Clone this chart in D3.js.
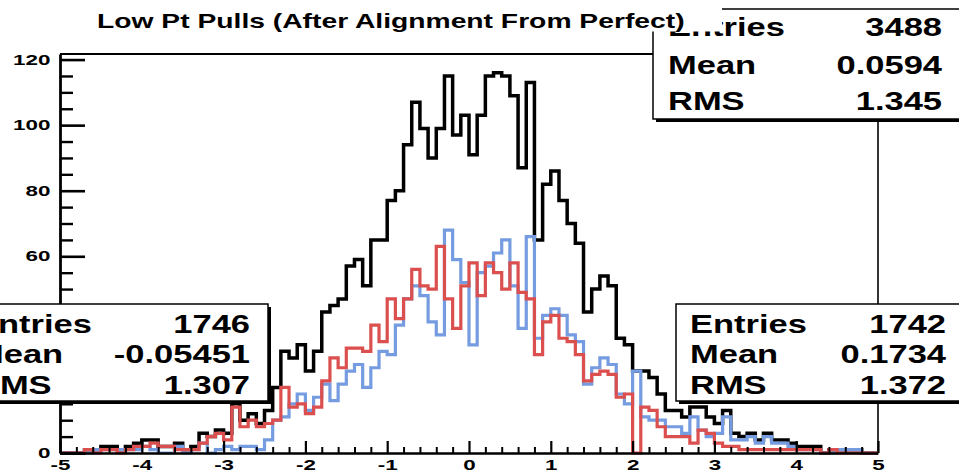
<!DOCTYPE html>
<html><head><meta charset="utf-8">
<script src="https://cdn.jsdelivr.net/npm/d3@7"></script>
<style>
html,body{margin:0;padding:0;background:#fff;overflow:hidden}
svg{display:block}
text{font-family:"Liberation Sans",Arial,Helvetica,sans-serif;font-weight:bold;fill:#000}
</style></head><body>
<svg id="c" width="959" height="472"></svg>
<script>
const title = "Low Pt Pulls (After Alignment From Perfect)";
const xRange = [-5, 5];
const xTicks = [-5,-4,-3,-2,-1,0,1,2,3,4,5];
const yTicks = [0,20,40,60,80,100,120];
const yMax = 121.7;

const blueCounts = [
 0,0,0,0,1,1,1,1,1,1,
 2,1,0,0,2,0,1,3,0,1,
 2,1,2,2,1,4,10,11,15,18,
 13,17,21,16,21,25,27,20,26,31,
 30,39,47,51,48,40,36,68,59,52,
 33,55,57,61,65,51,38,66,35,42,
 44,42,36,34,21,26,29,27,18,15,
 25,11,10,10,8,8,6,11,7,5,
 6,11,4,4,5,3,5,3,3,2,
 1,1,1,0,0,1,1,1,0,0];
const redCounts = [
 0,0,0,1,0,1,1,0,1,2,
 2,3,2,2,1,1,1,3,5,6,
 4,14,8,10,8,9,10,20,14,15,
 12,14,22,29,26,32,32,31,39,34,
 47,41,47,56,51,50,63,47,38,51,
 58,48,58,55,50,58,49,47,30,40,
 42,35,34,30,22,24,25,24,17,18,
 0,14,13,8,5,5,5,3,7,6,
 3,2,2,1,1,1,1,1,1,1,
 1,1,1,0,1,0,0,0,0,0];
const sumCounts = [
 0,0,0,1,1,2,2,1,2,3,
 4,4,2,2,3,1,2,6,5,7,
 6,15,10,12,9,13,20,31,29,33,
 25,31,43,45,47,57,59,51,65,65,
 77,80,94,107,99,90,99,115,97,103,
 91,103,115,116,115,109,87,113,65,82,
 86,77,70,64,43,50,54,51,35,33,
 25,25,23,18,13,13,11,14,14,11,
 9,13,6,5,6,4,6,4,4,3,
 2,2,2,0,1,1,1,1,0,0];

const statsSum  = [["Entries","3488"],["Mean","0.0594"],["RMS","1.345"]];
const statsRed  = [["Entries","1746"],["Mean","-0.05451"],["RMS","1.307"]];
const statsBlue = [["Entries","1742"],["Mean","0.1734"],["RMS","1.372"]];

const svg = d3.select("#c");
const x = d3.scaleLinear().domain(xRange).range([60, 878]);
const y = d3.scaleLinear().domain([0, yMax]).range([453, 54]);
const nb = sumCounts.length, bw = (xRange[1]-xRange[0])/nb;

// stats box geometry (x, y, w, h)
const boxSum  = [653, 9, 312, 110];
const boxRed  = [-42, 304, 310, 97];
const boxBlue = [676, 304, 292, 97];

function histPath(counts){
  const pts = [[xRange[0],0]];
  counts.forEach((c,i)=>{ const lo = xRange[0]+i*bw; pts.push([lo,c],[lo+bw,c]); });
  pts.push([xRange[1],0]);
  return d3.line().x(d=>x(d[0])).y(d=>y(d[1]))(pts);
}

// frame top & right
svg.append("line").attr("x1",x(xRange[0])).attr("x2",x(xRange[1]))
  .attr("y1",y(yMax)).attr("y2",y(yMax)).attr("stroke","#000").attr("stroke-width",2);
svg.append("line").attr("x1",x(xRange[1])).attr("x2",x(xRange[1]))
  .attr("y1",y(yMax)).attr("y2",y(0)).attr("stroke","#000").attr("stroke-width",1.6);

// histograms
[[sumCounts,"#000",3.5],[blueCounts,"#759be0",3.2],[redCounts,"#db4f4f",3.2]].forEach(([c,col,w])=>{
  svg.append("path").attr("d",histPath(c)).attr("fill","none").attr("stroke",col)
    .attr("stroke-width",w).attr("stroke-linejoin","miter");
});

// axes
const minorX = d3.range(0,51).map(i=>xRange[0]+i*0.2).filter(v=>Math.abs(v-Math.round(v))>1e-6);
const minorY = d3.range(5,121,5).filter(v=>v%20!==0);

const gxm = svg.append("g").attr("transform",`translate(0,${y(0)})`)
  .call(d3.axisBottom(x).tickValues(minorX).tickSize(-6).tickSizeOuter(0).tickFormat(""));
gxm.select(".domain").remove();
gxm.selectAll(".tick line").attr("stroke-width",2);

const gx = svg.append("g").attr("transform",`translate(0,${y(0)})`)
  .call(d3.axisBottom(x).tickValues(xTicks).tickSize(-12).tickSizeOuter(0).tickPadding(7).tickFormat(d=>String(d)));
gx.select(".domain").attr("stroke-width",2.6);
gx.selectAll(".tick line").attr("stroke-width",2.2);
gx.selectAll("text").style("font-size","14px").attr("transform","scale(1.6,1)");

const gym = svg.append("g").attr("transform",`translate(${x(xRange[0])},0)`)
  .call(d3.axisLeft(y).tickValues(minorY).tickSize(-13).tickSizeOuter(0).tickFormat(""));
gym.select(".domain").remove();
gym.selectAll(".tick line").attr("stroke-width",2.4);

const gy = svg.append("g").attr("transform",`translate(${x(xRange[0])},0)`)
  .call(d3.axisLeft(y).tickValues(yTicks).tickSize(-25).tickSizeOuter(0).tickPadding(6).tickFormat(d=>String(d)));
gy.select(".domain").attr("stroke-width",2.8);
gy.selectAll(".tick line").attr("stroke-width",2.6);
gy.selectAll("text").style("font-size","14px").attr("transform","scale(1.6,1)");
// labels that lie under the opaque stats box are not visible in the chart
gy.selectAll(".tick").filter(d=>{ const py=y(d); return py>boxRed[1] && py<boxRed[1]+boxRed[3]; })
  .select("text").remove();

// stats boxes
function stext(g, tx, ty, str, anchor, size, sx){
  g.append("text").attr("transform",`translate(${tx},${ty}) scale(${sx},1)`)
    .attr("text-anchor",anchor).style("font-size",size+"px").text(str);
}
function statsBox(b,rows,lx,vx,bases){
  const [x0,y0,w,h] = b;
  const g = svg.append("g");
  g.append("rect").attr("x",x0+3).attr("y",y0+3).attr("width",w).attr("height",h).attr("fill","#000");
  g.append("rect").attr("x",x0).attr("y",y0).attr("width",w).attr("height",h)
    .attr("fill","#fff").attr("stroke","#000").attr("stroke-width",1.5);
  rows.forEach((r,i)=>{
    stext(g,lx,bases[i],r[0],"start",25,1.38);
    stext(g,vx,bases[i],r[1],"end",25,1.38);
  });
}
statsBox(boxSum,statsSum,668,942,[36,74,110]);
statsBox(boxRed,statsRed,-25,250,[333,363,394]);
statsBox(boxBlue,statsBlue,690,946,[333,363,394]);

// title pave
svg.append("rect").attr("x",60).attr("y",0).attr("width",662).attr("height",31.5).attr("fill","#fff");
stext(svg,97,27.5,title,"start",19.5,1.45);
</script>
</body></html>
